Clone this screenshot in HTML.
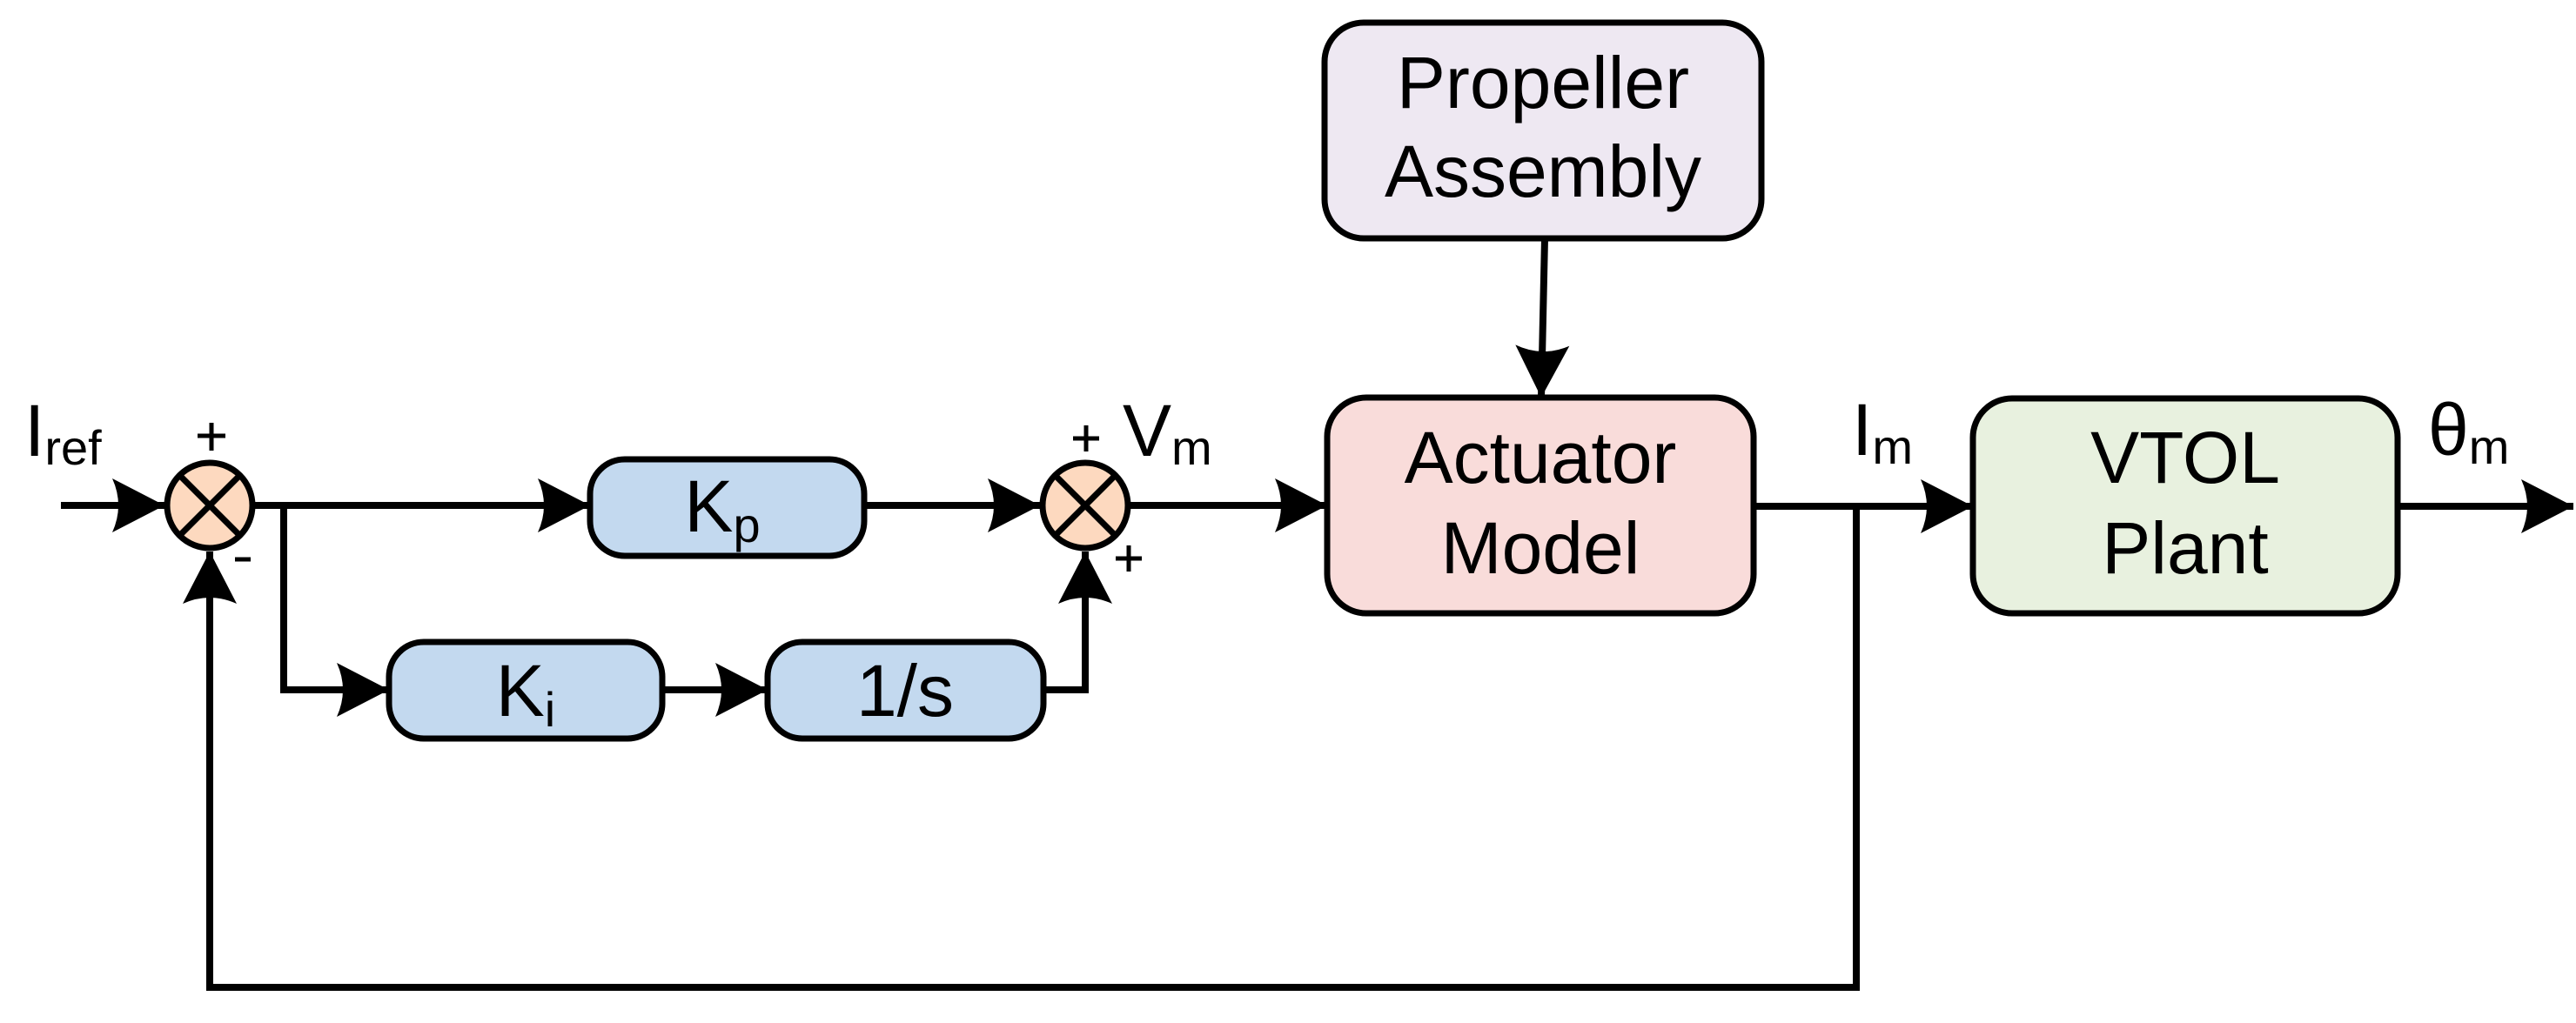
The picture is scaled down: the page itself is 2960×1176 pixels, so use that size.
<!DOCTYPE html>
<html><head><meta charset="utf-8"><style>
html,body{margin:0;padding:0;background:#fff;}
svg{display:block;}
text{font-family:"Liberation Sans",Arial,sans-serif;fill:#000;}
</style></head><body>
<svg width="2960" height="1176" viewBox="0 0 2960 1176" xmlns="http://www.w3.org/2000/svg">
<defs>
<marker id="a" markerUnits="userSpaceOnUse" markerWidth="80" markerHeight="80" viewBox="-70 -40 80 80" refX="0" refY="0" orient="auto">
<path d="M0,0 L-60,-31 Q-46,0 -60,31 Z" fill="#000"/>
</marker>
</defs>
<g stroke="#000" stroke-width="8" fill="none" stroke-linejoin="miter">
<line x1="70" y1="581" x2="189" y2="581" marker-end="url(#a)"/>
<line x1="293" y1="581" x2="678" y2="581" marker-end="url(#a)"/>
<polyline points="326,581 326,793 447,793" marker-end="url(#a)"/>
<line x1="761" y1="793" x2="882" y2="793" marker-end="url(#a)"/>
<polyline points="1199,793 1247,793 1247,634" marker-end="url(#a)"/>
<line x1="993" y1="581" x2="1195" y2="581" marker-end="url(#a)"/>
<line x1="1299" y1="581" x2="1525" y2="581" marker-end="url(#a)"/>
<line x1="1775" y1="274" x2="1771" y2="457" marker-end="url(#a)"/>
<line x1="2015" y1="582" x2="2267" y2="582" marker-end="url(#a)"/>
<line x1="2755" y1="582" x2="2957" y2="582" marker-end="url(#a)"/>
<polyline points="2133,582 2133,1135 241,1135 241,634" marker-end="url(#a)"/>
</g>
<g stroke="#000" stroke-width="7">
<circle cx="241" cy="581" r="49" fill="#FDD9BF"/>
<line x1="206" y1="546" x2="276" y2="616"/><line x1="276" y1="546" x2="206" y2="616"/>
<circle cx="1247" cy="581" r="49" fill="#FDD9BF"/>
<line x1="1212" y1="546" x2="1282" y2="616"/><line x1="1282" y1="546" x2="1212" y2="616"/>
</g>
<g stroke="#000" stroke-width="7">
<rect x="678" y="528" width="315" height="111" rx="40" fill="#C3D9EF"/>
<rect x="447" y="738" width="314" height="111" rx="40" fill="#C3D9EF"/>
<rect x="882" y="738" width="317" height="111" rx="40" fill="#C3D9EF"/>
<rect x="1522" y="26" width="502" height="248" rx="45" fill="#EEE8F2"/>
<rect x="1525" y="457" width="490" height="248" rx="45" fill="#F9DCDA"/>
<rect x="2267" y="458" width="488" height="247" rx="45" fill="#E8F1DF"/>
</g>
<g stroke="#000" stroke-width="5">
<line x1="243" y1="486" x2="243" y2="518"/><line x1="227" y1="501" x2="259" y2="501"/>
<line x1="270" y1="643" x2="288" y2="643"/>
<line x1="1248" y1="489" x2="1248" y2="519"/><line x1="1233" y1="504" x2="1263" y2="504"/>
<line x1="1297" y1="627" x2="1297" y2="657"/><line x1="1282" y1="642" x2="1312" y2="642"/>
</g>
<g font-size="84">
<text x="28" y="524">I<tspan font-size="56" dy="10">ref</tspan></text>
<text x="1290" y="524">V<tspan font-size="56" dy="10">m</tspan></text>
<text x="2128" y="523">I<tspan font-size="56" dy="10">m</tspan></text>
<text x="2790" y="523">θ<tspan font-size="56" dy="10">m</tspan></text>
</g>
<g font-size="84" text-anchor="middle">
<text x="830" y="611">K<tspan font-size="56" dy="12">p</tspan></text>
<text x="604" y="823">K<tspan font-size="56" dy="12">i</tspan></text>
<text x="1040" y="823">1/s</text>
<text x="1773" y="124">Propeller</text>
<text x="1773" y="226">Assembly</text>
<text x="1770" y="555">Actuator</text>
<text x="1770" y="659">Model</text>
<text x="2511" y="555">VTOL</text>
<text x="2511" y="659">Plant</text>
</g>
</svg>
</body></html>
